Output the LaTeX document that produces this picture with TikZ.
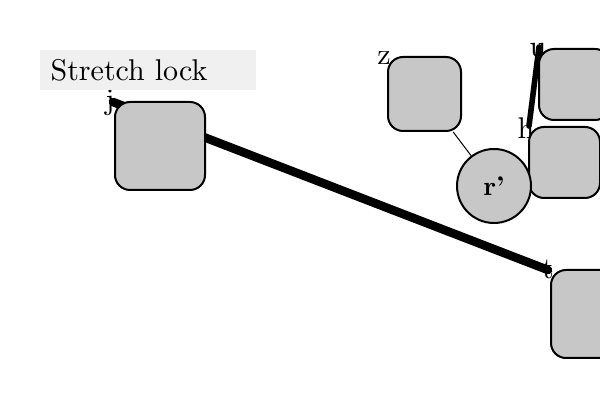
\documentclass[tikz,border=0pt]{standalone}
\pgfdeclarelayer{labs}
\pgfdeclarelayer{links}
\pgfsetlayers{labs,links,main}
\begin{document}
\begin{tikzpicture}[x=0.5pt,y=-0.5pt,
  box/.style={draw=black,line width=1pt,fill=black!22,rounded corners=7.5pt,inner sep=0pt},
  circ/.style={draw=black,line width=1pt,fill=black!22,circle,inner sep=0pt,minimum size=37pt},
  lab/.style={inner sep=0pt,scale=1.5},
  thick link/.style={line width=4.3pt,line cap=round},
  thin link/.style={line width=0.5pt}]
\useasboundingbox (0,0) rectangle (600,400);
\clip (0,0) rectangle (600,400);
\node[fill=black!6,minimum width=108pt,minimum height=20pt,inner sep=0pt] (title) at (148,70) {};
\node[anchor=west,inner sep=0pt,scale=1.5] (titletext) at (50,70) {Stretch lock};
\node[box,minimum width=45pt,minimum height=44pt] (j) at (160,146) {};
\node[box,minimum width=36.5pt,minimum height=37pt] (z) at (424.5,94) {};
\node[box,minimum width=35.5pt,minimum height=35.5pt] (u) at (574.5,84.5) {};
\node[box,minimum width=35.5pt,minimum height=35.5pt] (h) at (564.5,162.5) {};
\node[box,minimum width=44pt,minimum height=44pt] (t) at (595,314) {};
\node[circ] (r) at (494,186) {};
\node[inner sep=0pt,scale=1.35,font=\bfseries] (rl) at (r.center) {r'};
\begin{pgfonlayer}{links}
\draw[thick link] ([shift={(-0.5pt,-0.5pt)}]j.north west) -- ([shift={(-1pt,-0.5pt)}]t.north west);
\draw[line width=2.8pt,line cap=round] ([shift={(0.5pt,0.5pt)}]u.north west) -- ([shift={(0.5pt,0pt)}]h.north west);
\draw[thin link] (z) -- (r);
\end{pgfonlayer}
\begin{pgfonlayer}{labs}
\node[lab] (jl) at ([xshift=-2pt,yshift=-1pt]j.north west) {j};
\node[lab] (zl) at ([xshift=-1.5pt,yshift=-1pt]z.north west) {z};
\node[lab] (ul) at ([xshift=0pt,yshift=-1pt]u.north west) {u};
\node[lab] (hl) at ([xshift=-1pt,yshift=-1pt]h.north west) {h};
\node[lab] (tl) at ([xshift=-1pt,yshift=0pt]t.north west) {t};
\end{pgfonlayer}
\end{tikzpicture}
\end{document}
